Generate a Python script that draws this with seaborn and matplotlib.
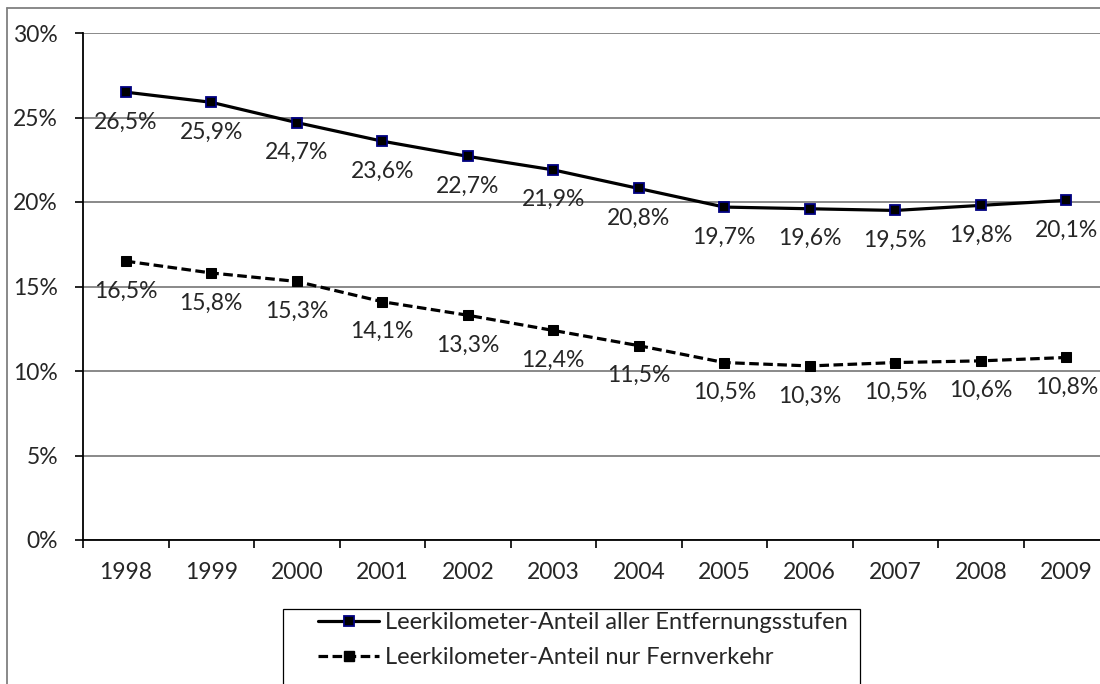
import matplotlib
matplotlib.use("Agg")
import matplotlib.pyplot as plt
import seaborn as sns
import pandas as pd
from matplotlib.lines import Line2D
from matplotlib.patches import Rectangle

years = ["1998", "1999", "2000", "2001", "2002", "2003", "2004", "2005", "2006", "2007", "2008", "2009"]
alle = [26.5, 25.9, 24.7, 23.6, 22.7, 21.9, 20.8, 19.7, 19.6, 19.5, 19.8, 20.1]
fern = [16.5, 15.8, 15.3, 14.1, 13.3, 12.4, 11.5, 10.5, 10.3, 10.5, 10.6, 10.8]
series_names = ["Leerkilometer-Anteil aller Entfernungsstufen", "Leerkilometer-Anteil nur Fernverkehr"]
yticks = [0, 5, 10, 15, 20, 25, 30]

sns.set_theme(style="white")
plt.rcParams['font.family'] = ['Lato', 'DejaVu Sans']

FS = 16.5
DASH = (3.0, 1.4)

df = pd.DataFrame({
    "Jahr": years * 2,
    "Wert": alle + fern,
    "Serie": [series_names[0]] * len(years) + [series_names[1]] * len(years),
})

fig = plt.figure(figsize=(11, 6.84), dpi=100)
ax = fig.add_axes([83 / 1100, 1 - 540 / 684, (1109 - 83) / 1100, (540 - 33) / 684])

ax.yaxis.grid(True, color="#808080", linewidth=1.3)
ax.set_axisbelow(True)

sns.lineplot(data=df, x="Jahr", y="Wert", hue="Serie", style="Serie",
             palette={series_names[0]: "black", series_names[1]: "black"},
             dashes={series_names[0]: "", series_names[1]: DASH},
             markers={series_names[0]: "s", series_names[1]: "s"},
             linewidth=2.3, markersize=7, ax=ax, legend=False, sort=False)

lines = ax.get_lines()
lines[0].set_markeredgecolor("#000080")
lines[0].set_markerfacecolor("black")
lines[0].set_markeredgewidth(1.3)
lines[1].set_markeredgecolor("black")
lines[1].set_markerfacecolor("black")

for vals in (alle, fern):
    for i, v in enumerate(vals):
        ax.annotate(f"{v:.1f}%".replace(".", ","), (i, v), xytext=(0, -14),
                    textcoords="offset points", ha="center", va="top", fontsize=FS)

ax.set_xlim(-0.5, 11.5)
ax.set_ylim(0, 30)
ax.set_yticks(yticks)
ax.set_yticklabels([f"{t}%" for t in yticks])
ax.set_xticks([i - 0.5 for i in range(len(years) + 1)], minor=False)
ax.set_xticklabels([])
ax.set_xticks(range(len(years)), minor=True)
ax.set_xticklabels(years, minor=True)
ax.tick_params(axis="x", which="major", length=6, width=1.2, color="black", direction="out", bottom=True)
ax.tick_params(axis="x", which="minor", length=0, pad=16, labelsize=FS)
ax.tick_params(axis="y", length=6, width=1.2, color="black", direction="out", left=True, pad=12, labelsize=FS)
ax.set_xlabel("")
ax.set_ylabel("")
for s in ["top", "right"]:
    ax.spines[s].set_visible(False)
for s in ["left", "bottom"]:
    ax.spines[s].set_color("black")
    ax.spines[s].set_linewidth(1.3)

# outer chart frame
fig.add_artist(Line2D([7 / 1100, 7 / 1100], [0, 1 - 8 / 684], transform=fig.transFigure, color="#808080", linewidth=1.3))
fig.add_artist(Line2D([7 / 1100, 1], [1 - 8 / 684, 1 - 8 / 684], transform=fig.transFigure, color="#808080", linewidth=1.3))

# legend frame
fig.add_artist(Rectangle((283 / 1100, -0.05), (860 - 283) / 1100, (684 - 609) / 684 + 0.05,
                         transform=fig.transFigure, facecolor="white", edgecolor="black", linewidth=0.9))

handles = [
    Line2D([], [], color="black", linewidth=2.3, marker="s", markersize=7,
           markerfacecolor="black", markeredgecolor="#000080", markeredgewidth=1.3),
    Line2D([], [], color="black", linewidth=2.3, linestyle=(0, DASH), marker="s", markersize=7,
           markerfacecolor="black", markeredgecolor="black"),
]
leg = fig.legend(handles, series_names, loc="upper left",
                 bbox_to_anchor=(318 / 1100, 1 - 612 / 684), bbox_transform=fig.transFigure,
                 fontsize=17, frameon=False, handlelength=2.6, handletextpad=0.25,
                 borderpad=0.0, labelspacing=0.6, borderaxespad=0)

fig.savefig("out.png", dpi=100)
